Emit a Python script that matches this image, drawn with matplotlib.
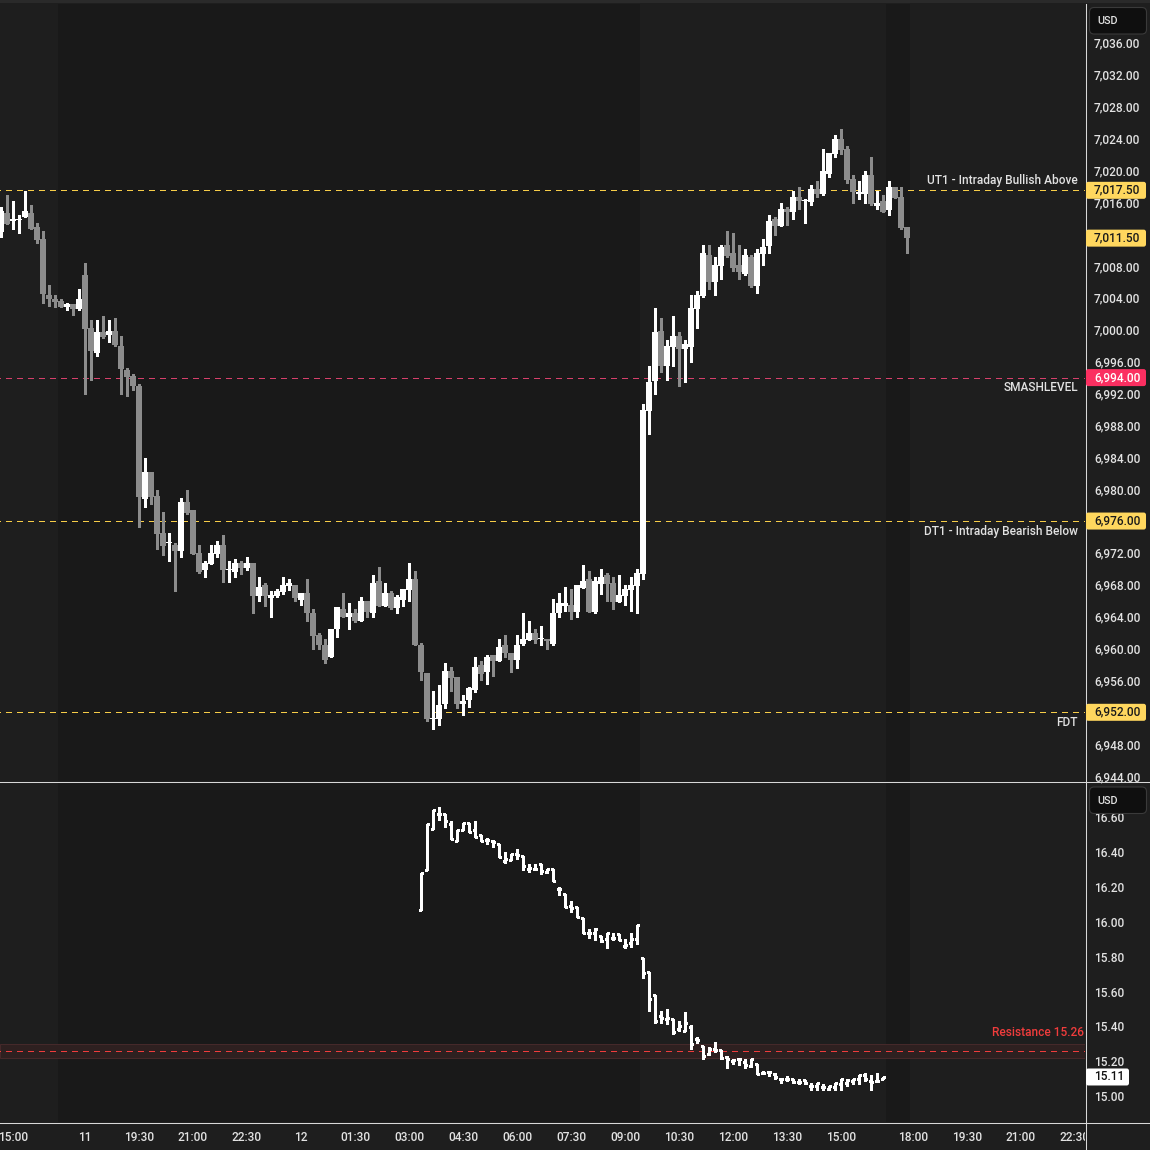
import numpy as np
import pandas as pd
import matplotlib
matplotlib.use("Agg")
import matplotlib.pyplot as plt
from matplotlib.patches import FancyBboxPatch, Rectangle
from matplotlib.lines import Line2D
from matplotlib.ticker import FuncFormatter

plt.rcParams['font.family'] = ['Roboto', 'Liberation Sans', 'DejaVu Sans']
plt.rcParams['font.weight'] = 'medium'
plt.rcParams['lines.scale_dashes'] = False

# ---- bar clock (10 minute bars, 17:00-18:00 break skipped) ----
seg1 = pd.date_range("2025-12-11 14:40", "2025-12-11 16:50", freq="10min")
seg2 = pd.date_range("2025-12-11 18:00", "2025-12-12 16:50", freq="10min")
seg3 = pd.date_range("2025-12-12 18:00", "2025-12-12 23:50", freq="10min")
bar_times = seg1.append(seg2).append(seg3)

tick_stamps = ["2025-12-11 15:00", "2025-12-11 18:00", "2025-12-11 19:30", "2025-12-11 21:00",
               "2025-12-11 22:30", "2025-12-12 00:00", "2025-12-12 01:30", "2025-12-12 03:00",
               "2025-12-12 04:30", "2025-12-12 06:00", "2025-12-12 07:30", "2025-12-12 09:00",
               "2025-12-12 10:30", "2025-12-12 12:00", "2025-12-12 13:30", "2025-12-12 15:00",
               "2025-12-12 18:00", "2025-12-12 19:30", "2025-12-12 21:00", "2025-12-12 22:30"]
tick_labels = ["15:00", "11", "19:30", "21:00", "22:30", "12", "01:30", "03:00", "04:30",
               "06:00", "07:30", "09:00", "10:30", "12:00", "13:30", "15:00", "18:00",
               "19:30", "21:00", "22:30"]

# ---- ES futures candles ----
es_open = [7012.3, 7014.6, 7013.6, 7013.8, 7014.1, 7014.6, 7012.9, 7011.4, 7004.4, 7003.9,
           7003.6, 7002.9, 7003.2, 7002.6, 7006.9, 7000.2, 6997.1, 6999.7, 6999.3, 6999.9,
           6998.0, 6995.0, 6994.2, 6992.9, 6978.8, 6982.2, 6979.1, 6974.5, 6973.2, 6973.0,
           6972.2, 6978.4, 6977.4, 6972.0, 6969.9, 6970.6, 6971.9, 6973.0, 6969.9, 6969.6,
           6970.7, 6970.1, 6970.7, 6966.6, 6968.0, 6966.4, 6966.6, 6967.1, 6967.9, 6968.0,
           6966.1, 6967.0, 6964.5, 6961.7, 6960.4, 6958.9, 6962.4, 6965.0, 6963.9, 6964.5,
           6963.4, 6966.0, 6964.4, 6968.5, 6965.4, 6967.0, 6965.1, 6966.1, 6967.4, 6968.7,
           6960.4, 6956.9, 6951.1, 6951.1, 6953.1, 6957.2, 6956.4, 6953.1, 6953.5, 6954.8,
           6957.9, 6957.1, 6959.2, 6958.4, 6960.4, 6959.4, 6958.6, 6960.6, 6961.1, 6962.0,
           6961.2, 6961.2, 6960.6, 6964.4, 6965.4, 6965.5, 6964.6, 6967.6, 6968.7, 6964.6,
           6968.1, 6969.2, 6968.2, 6965.9, 6966.6, 6967.4, 6967.9, 6969.4, 6989.8, 6993.6,
           6999.9, 6995.4, 6997.9, 6999.2, 6997.6, 6997.9, 7002.6, 7004.2, 7009.4, 7006.0,
           7008.0, 7010.6, 7009.6, 7008.1, 7007.0, 7009.1, 7005.5, 7009.5, 7010.5, 7013.9,
           7013.0, 7015.2, 7014.8, 7016.7, 7016.1, 7016.0, 7017.7, 7017.0, 7019.5, 7022.1,
           7024.0, 7022.7, 7018.9, 7017.1, 7017.0, 7019.4, 7015.5, 7016.1, 7015.0, 7017.9,
           7016.7, 7012.9]
es_high = [7015.4, 7016.9, 7016.2, 7014.4, 7017.4, 7015.7, 7013.4, 7012.4, 7005.6, 7004.4,
           7003.9, 7003.4, 7003.2, 7005.1, 7008.4, 7001.2, 7001.2, 7001.7, 7001.2, 7001.5,
           6999.2, 6995.2, 6994.4, 6993.2, 6983.9, 6982.2, 6979.9, 6977.1, 6974.5, 6973.2,
           6978.9, 6979.9, 6977.4, 6973.0, 6971.0, 6973.0, 6973.5, 6974.3, 6971.0, 6971.2,
           6971.0, 6971.5, 6970.7, 6969.0, 6968.2, 6967.2, 6967.5, 6969.0, 6968.7, 6968.0,
           6967.0, 6968.7, 6965.0, 6961.9, 6961.2, 6962.5, 6965.2, 6967.0, 6965.7, 6965.0,
           6966.5, 6966.0, 6969.2, 6970.2, 6968.2, 6967.2, 6966.7, 6967.5, 6970.7, 6969.7,
           6960.7, 6956.9, 6954.7, 6955.4, 6958.2, 6957.7, 6956.4, 6954.2, 6955.2, 6958.9,
           6958.4, 6959.2, 6959.2, 6961.2, 6961.7, 6959.4, 6961.7, 6964.5, 6963.5, 6962.5,
           6962.8, 6961.2, 6966.2, 6967.0, 6967.7, 6967.5, 6968.0, 6970.5, 6969.7, 6969.0,
           6970.0, 6969.5, 6969.0, 6969.2, 6968.0, 6969.0, 6970.0, 6990.7, 6995.5, 7002.7,
           7001.5, 6998.7, 7001.7, 6999.7, 6998.7, 7004.4, 7004.9, 7010.6, 7010.6, 7009.1,
           7010.6, 7012.4, 7012.1, 7010.6, 7010.1, 7009.4, 7010.1, 7011.4, 7014.4, 7014.1,
           7015.9, 7015.4, 7017.4, 7017.9, 7016.4, 7018.2, 7018.7, 7022.7, 7022.2, 7024.4,
           7025.2, 7023.0, 7019.4, 7018.7, 7019.9, 7021.7, 7017.4, 7016.9, 7018.7, 7017.9,
           7017.9, 7012.9]
es_low = [7011.7, 7013.3, 7012.6, 7012.2, 7014.1, 7012.6, 7010.9, 7003.3, 7003.0, 7002.8,
          7002.8, 7002.5, 7001.8, 7002.5, 6991.9, 6993.7, 6996.7, 6999.0, 6998.5, 6998.0,
          6991.9, 6991.7, 6992.4, 6975.3, 6977.7, 6978.2, 6972.5, 6971.8, 6971.0, 6967.2,
          6971.5, 6976.9, 6971.9, 6969.5, 6969.0, 6970.6, 6971.5, 6968.3, 6968.3, 6969.0,
          6969.3, 6969.8, 6964.5, 6966.0, 6965.3, 6964.0, 6966.5, 6966.8, 6967.3, 6966.0,
          6965.5, 6963.5, 6960.0, 6960.0, 6958.2, 6958.9, 6961.5, 6963.9, 6962.5, 6963.3,
          6963.4, 6964.0, 6964.0, 6965.3, 6965.3, 6965.0, 6964.5, 6965.3, 6966.0, 6960.4,
          6956.0, 6950.9, 6949.9, 6950.4, 6952.5, 6954.7, 6952.5, 6951.7, 6952.7, 6954.5,
          6956.0, 6955.5, 6956.5, 6958.4, 6958.9, 6957.0, 6957.5, 6960.5, 6961.1, 6960.7,
          6960.5, 6960.0, 6960.5, 6964.0, 6964.7, 6963.7, 6964.0, 6967.6, 6964.6, 6964.5,
          6966.8, 6966.0, 6965.0, 6965.8, 6965.5, 6964.7, 6964.5, 6968.7, 6986.9, 6991.9,
          6994.7, 6993.7, 6995.5, 6993.0, 6993.4, 6996.0, 7000.2, 7004.1, 7005.1, 7004.4,
          7006.4, 7009.1, 7007.4, 7006.4, 7006.9, 7005.4, 7004.6, 7008.1, 7009.6, 7011.9,
          7013.0, 7013.1, 7013.9, 7015.2, 7013.4, 7015.7, 7016.7, 7016.9, 7019.2, 7021.7,
          7022.0, 7018.4, 7015.9, 7016.4, 7015.9, 7015.7, 7015.2, 7014.8, 7014.4, 7016.5,
          7012.6, 7009.6]
es_close = [7014.9, 7013.3, 7013.9, 7013.9, 7014.9, 7012.6, 7011.3, 7004.5, 7003.8, 7003.5,
            7002.9, 7003.2, 7002.6, 7003.9, 7000.1, 6997.3, 6999.7, 6999.1, 6999.9, 6998.1,
            6995.1, 6994.1, 6992.9, 6979.0, 6982.2, 6979.0, 6974.4, 6972.9, 6973.3, 6972.2,
            6978.4, 6977.0, 6971.9, 6969.6, 6970.7, 6972.0, 6973.0, 6969.9, 6970.0, 6970.7,
            6970.1, 6970.7, 6966.6, 6967.7, 6966.6, 6966.7, 6967.2, 6968.0, 6968.2, 6966.4,
            6967.0, 6964.4, 6961.6, 6960.4, 6958.6, 6962.5, 6965.2, 6963.9, 6964.5, 6963.4,
            6966.0, 6964.6, 6968.2, 6965.4, 6967.0, 6965.1, 6966.5, 6967.5, 6968.7, 6960.4,
            6957.1, 6951.1, 6951.2, 6952.9, 6957.2, 6956.3, 6953.1, 6953.4, 6955.0, 6957.7,
            6956.8, 6958.9, 6958.4, 6960.2, 6959.4, 6958.6, 6960.4, 6961.2, 6962.0, 6961.1,
            6961.2, 6960.9, 6964.5, 6965.7, 6965.7, 6964.6, 6968.0, 6968.5, 6964.6, 6968.5,
            6969.0, 6968.1, 6965.9, 6966.7, 6967.5, 6968.0, 6969.5, 6989.9, 6993.4, 6999.7,
            6995.4, 6998.0, 6999.2, 6997.6, 6998.2, 7002.7, 7004.4, 7009.6, 7006.0, 7008.1,
            7010.4, 7009.3, 7007.7, 7007.2, 7009.4, 7005.5, 7009.6, 7010.4, 7013.6, 7013.0,
            7015.2, 7014.8, 7016.7, 7016.1, 7016.2, 7017.7, 7017.0, 7019.9, 7022.2, 7024.0,
            7022.6, 7018.8, 7017.3, 7017.2, 7019.4, 7015.8, 7015.9, 7014.8, 7017.9, 7016.5,
            7012.8, 7011.5]

# ---- lower pane (OHLC bars, starts 03:20) ----
vix_first_bar = "2025-12-12 03:20"
vix_open = [16.066, 16.295, 16.530, 16.620, 16.616, 16.560, 16.463, 16.524, 16.565, 16.524,
            16.495, 16.470, 16.465, 16.448, 16.350, 16.352, 16.390, 16.375, 16.300, 16.304,
            16.333, 16.285, 16.304, 16.186, 16.157, 16.090, 16.085, 16.023, 15.937, 15.937,
            15.918, 15.899, 15.905, 15.930, 15.860, 15.880, 15.899, 15.790, 15.710, 15.580,
            15.460, 15.441, 15.441, 15.383, 15.374, 15.397, 15.330, 15.288, 15.240, 15.268,
            15.263, 15.225, 15.202, 15.215, 15.196, 15.173, 15.186, 15.135, 15.139, 15.129,
            15.100, 15.100, 15.096, 15.081, 15.091, 15.058, 15.058, 15.053, 15.039, 15.053,
            15.072, 15.077, 15.087, 15.096, 15.119, 15.087, 15.087, 15.096]
vix_high = [16.278, 16.559, 16.639, 16.658, 16.616, 16.578, 16.524, 16.565, 16.565, 16.578,
            16.495, 16.478, 16.468, 16.448, 16.400, 16.387, 16.415, 16.375, 16.333, 16.333,
            16.333, 16.304, 16.304, 16.201, 16.157, 16.119, 16.085, 16.023, 15.957, 15.966,
            15.918, 15.937, 15.937, 15.930, 15.899, 15.937, 15.980, 15.790, 15.710, 15.580,
            15.488, 15.498, 15.444, 15.431, 15.483, 15.406, 15.339, 15.288, 15.282, 15.311,
            15.263, 15.230, 15.215, 15.215, 15.211, 15.215, 15.186, 15.144, 15.144, 15.135,
            15.106, 15.116, 15.096, 15.096, 15.091, 15.077, 15.077, 15.072, 15.058, 15.077,
            15.096, 15.096, 15.100, 15.119, 15.135, 15.119, 15.135, 15.112]
vix_low = [16.066, 16.295, 16.530, 16.582, 16.543, 16.473, 16.463, 16.524, 16.515, 16.486,
           16.463, 16.444, 16.430, 16.371, 16.337, 16.352, 16.362, 16.295, 16.285, 16.295,
           16.272, 16.278, 16.234, 16.152, 16.085, 16.056, 16.027, 15.937, 15.909, 15.894,
           15.884, 15.851, 15.894, 15.894, 15.851, 15.855, 15.874, 15.676, 15.488, 15.418,
           15.421, 15.412, 15.355, 15.374, 15.374, 15.272, 15.307, 15.215, 15.234, 15.253,
           15.215, 15.163, 15.182, 15.177, 15.163, 15.167, 15.125, 15.125, 15.116, 15.100,
           15.077, 15.087, 15.077, 15.072, 15.072, 15.033, 15.033, 15.033, 15.033, 15.033,
           15.033, 15.058, 15.068, 15.068, 15.087, 15.033, 15.087, 15.096]
vix_close = [16.278, 16.559, 16.639, 16.620, 16.578, 16.473, 16.524, 16.565, 16.515, 16.486,
             16.463, 16.470, 16.455, 16.371, 16.360, 16.387, 16.380, 16.318, 16.310, 16.304,
             16.290, 16.304, 16.234, 16.186, 16.085, 16.080, 16.027, 15.937, 15.937, 15.957,
             15.890, 15.937, 15.905, 15.894, 15.865, 15.899, 15.980, 15.704, 15.557, 15.431,
             15.450, 15.450, 15.368, 15.400, 15.421, 15.301, 15.320, 15.230, 15.268, 15.263,
             15.221, 15.215, 15.205, 15.211, 15.177, 15.215, 15.125, 15.135, 15.139, 15.110,
             15.096, 15.100, 15.081, 15.081, 15.077, 15.058, 15.077, 15.053, 15.058, 15.077,
             15.096, 15.091, 15.096, 15.119, 15.096, 15.081, 15.087, 15.110]

# ---- levels ----
level_values = [7017.5, 6994.0, 6976.0, 6952.0]
level_names = ["UT1 - Intraday Bullish Above", "SMASHLEVEL", "DT1 - Intraday Bearish Below", "FDT"]
resistance = 15.26
resistance_band = 0.04

# ---- style ----
W, H = 1150, 1150
BG = '#1e1e1e'
ETH_BG = '#191919'
BULL = '#ffffff'
BEAR = '#8c8c8c'
TXT = '#e2e2e2'
AXLINE = '#d8d8d8'
YEL = '#ffd75e'
YEL_LINE = '#f7cd48'
PINK = '#fb2f61'
PINK_LINE = '#d6406b'
RED = '#f03c3c'
FS = 8.6
DASH = (3.6, (3.6, 4.3))

es_open, es_high, es_low, es_close = map(np.array, (es_open, es_high, es_low, es_close))
vix_open, vix_high, vix_low, vix_close = map(np.array, (vix_open, vix_high, vix_low, vix_close))

fig = plt.figure(figsize=(W / 100, H / 100), dpi=100, facecolor=BG)
ax = fig.add_axes([0, 1 - 781 / H, 1085 / W, 777 / H])
ax2 = fig.add_axes([0, 1 - 1122 / H, 1085 / W, 340 / H])
tax = fig.add_axes([0, 0, 1085 / W, 27 / H])

xmin, xmax = -1 / 6, 1084 / 6
n_bars = len(es_open)
rth = [(t.hour * 60 + t.minute >= 570) and (t.hour * 60 + t.minute < 975) for t in bar_times[:n_bars]]

for a in (ax, ax2, tax):
    a.set_facecolor(BG)
    a.set_xlim(xmin, xmax)
    for s in a.spines.values():
        s.set_visible(False)
    a.set_xticks([])

# extended-hours background
for a in (ax, ax2):
    start = None
    for i in range(n_bars + 1):
        eth = i < n_bars and not rth[i]
        if eth and start is None:
            start = i
        if not eth and start is not None:
            a.axvspan(start - 0.5, i - 0.5, color=ETH_BG, lw=0, zorder=0)
            start = None

# candles
x = np.arange(n_bars)
up = es_close >= es_open
cols = np.where(up, BULL, BEAR)
ax.vlines(x, es_low, es_high, colors=cols, linewidth=0.75, antialiased=False, zorder=3)
body_lo = np.minimum(es_open, es_close)
body_h = np.maximum(np.abs(es_close - es_open), 0.13)
ax.bar(x, body_h, bottom=body_lo, width=0.9, color=cols, linewidth=0, zorder=4)

ax.set_ylim(6943.38, 7040.88)
ax.yaxis.tick_right()
ax.set_yticks(np.arange(6944, 7037, 4))
tag_levels = level_values + [es_close[-1]]
ax.yaxis.set_major_formatter(FuncFormatter(
    lambda v, p: "" if min(abs(v - t) for t in tag_levels) < 1.0 else f"{v:,.2f}"))
ax.tick_params(axis='y', length=0, pad=6.5, labelsize=FS, labelcolor=TXT)

for val, name in zip(level_values, level_names):
    lc = PINK_LINE if name == "SMASHLEVEL" else YEL_LINE
    ax.axhline(val, color=lc, lw=0.8, linestyle=DASH, antialiased=False, zorder=2)
    dy = 10 if name.startswith("UT1") else -10
    ax.annotate(name, xy=(1, val), xycoords=('axes fraction', 'data'), xytext=(-7, dy),
                textcoords='offset pixels', ha='right', va='center', color=TXT, fontsize=FS)

# lower pane OHLC bars
v0 = bar_times.get_loc(pd.Timestamp(vix_first_bar))
vx = np.arange(v0, v0 + len(vix_open))
ax2.vlines(vx, vix_low, vix_high, colors=BULL, linewidth=0.75, antialiased=False, zorder=3)
ax2.hlines(vix_open, vx - 0.36, vx, colors=BULL, linewidth=0.75, antialiased=False, zorder=3)
ax2.hlines(vix_close, vx, vx + 0.36, colors=BULL, linewidth=0.75, antialiased=False, zorder=3)

ax2.set_ylim(14.852, 16.801)
ax2.yaxis.tick_right()
ax2.set_yticks(np.arange(15.0, 16.61, 0.2))
ax2.yaxis.set_major_formatter(FuncFormatter(lambda v, p: f"{v:.2f}"))
ax2.tick_params(axis='y', length=0, pad=6.5, labelsize=FS, labelcolor=TXT)

ax2.axhspan(resistance - resistance_band, resistance + resistance_band,
            facecolor='#2e2020', edgecolor='#45292a', lw=0.75, zorder=1)
ax2.axhline(resistance, color=RED, lw=0.8, linestyle=DASH, antialiased=False, zorder=2)
ax2.annotate(f"Resistance {resistance:.2f}", xy=(1, resistance), xycoords=('axes fraction', 'data'),
             xytext=(-1, 18), textcoords='offset pixels', ha='right', va='center',
             color=RED, fontsize=FS)

# time axis
tax.set_ylim(0, 1)
tax.set_yticks([])
for stamp, lab in zip(tick_stamps, tick_labels):
    i = bar_times.get_loc(pd.Timestamp(stamp))
    tax.text(i, 0.48, lab, ha='center', va='center', color=TXT, fontsize=FS, clip_on=True)

# frame lines
fig.add_artist(Line2D([1085.5 / W] * 2, [0, 1 - 4 / H], color=AXLINE, lw=0.75))
fig.add_artist(Line2D([0, 1], [1 - 781.5 / H] * 2, color=AXLINE, lw=0.75))
fig.add_artist(Line2D([0, 1], [1 - 1122.5 / H] * 2, color=AXLINE, lw=0.75))
fig.add_artist(Rectangle((0, 1 - 3 / H), 1, 3 / H, transform=fig.transFigure, color='#2a2a2a', lw=0))

# price tags on the scale
def tag(axis, value, text, face, tcol, width=60):
    fig.canvas.draw()
    yd = axis.transData.transform((0, value))[1]
    fig.add_artist(FancyBboxPatch((1086 / W, (yd - 8.5) / H), width / W, 17 / H,
                                  boxstyle="round,pad=0,rounding_size=0.002",
                                  transform=fig.transFigure, fc=face, ec='none', zorder=5))
    fig.text(1094 / W, yd / H, text, ha='left', va='center', color=tcol, fontsize=FS, zorder=6)

tag(ax, level_values[0], f"{level_values[0]:,.2f}", YEL, '#1a1a1a')
tag(ax, es_close[-1], f"{es_close[-1]:,.2f}", YEL, '#1a1a1a')
tag(ax, level_values[1], f"{level_values[1]:,.2f}", PINK, '#ffffff')
tag(ax, level_values[2], f"{level_values[2]:,.2f}", YEL, '#1a1a1a')
tag(ax, level_values[3], f"{level_values[3]:,.2f}", YEL, '#1a1a1a')
tag(ax2, vix_close[-1], f"{vix_close[-1]:.2f}", '#ffffff', '#111111', width=43)

# currency boxes
for top in (7.5, 787):
    fig.add_artist(FancyBboxPatch((1089.5 / W, 1 - (top + 26.5) / H), 57 / W, 26.5 / H,
                                  boxstyle="round,pad=0,rounding_size=0.004",
                                  transform=fig.transFigure, fc='#0f0f0f', ec='#3a3a3a',
                                  lw=0.8, zorder=5))
    fig.text(1097.5 / W, 1 - (top + 13.5) / H, "USD", ha='left', va='center', color=TXT,
             fontsize=7.8, zorder=6)

fig.savefig("out.png", dpi=100, facecolor=fig.get_facecolor())
